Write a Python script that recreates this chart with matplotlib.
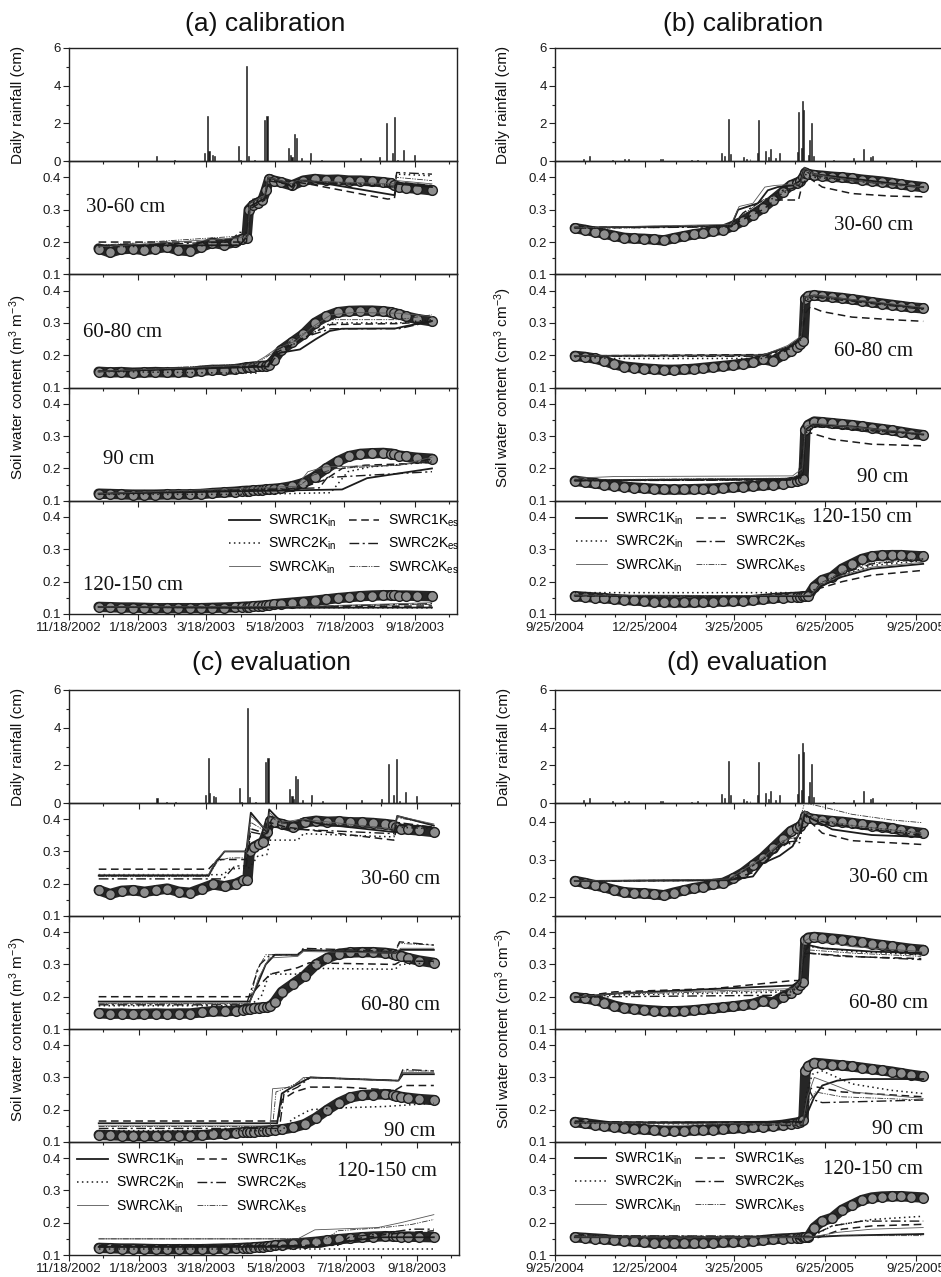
import numpy as np
import matplotlib
matplotlib.use("Agg")
import matplotlib.pyplot as plt
import matplotlib.dates as mdates
from matplotlib.ticker import MultipleLocator, FuncFormatter
from matplotlib.lines import Line2D

plt.rcParams['font.family'] = ['Liberation Sans', 'DejaVu Sans']
plt.rcParams['mathtext.fontset'] = 'custom'
plt.rcParams['mathtext.rm'] = 'Liberation Sans'
plt.rcParams['mathtext.it'] = 'Liberation Sans:italic'
plt.rcParams['mathtext.bf'] = 'Liberation Sans:bold'

# ------------------------------------------------------------------ data
site1_start, site1_end = '2002-11-18', '2003-10-25'
site2_start, site2_end = '2004-09-25', '2005-10-24'

titles = ['(a) calibration', '(b) calibration', '(c) evaluation', '(d) evaluation']
depths = ['30-60 cm', '60-80 cm', '90 cm', '120-150 cm']
sim_labels = ['SWRC1K$_{\\rm in}$', 'SWRC1K$_{\\rm es}$', 'SWRC2K$_{\\rm in}$',
              'SWRC2K$_{\\rm es}$', 'SWRCλK$_{\\rm in}$', 'SWRCλK$_{\\rm es}$']

# daily rainfall (days since site start, cm)
rain1_day = [77, 85, 93, 119, 122, 123, 126, 128, 149, 151, 156, 158, 163, 172, 174, 193,
             195, 196, 198, 200, 204, 212, 222, 256, 273, 279, 284, 286, 289, 294, 304]
rain1_cm = [0.28, 0.03, 0.05, 0.42, 2.4, 0.55, 0.35, 0.3, 0.78, 0.05, 5.05, 0.3, 0.05, 2.2,
            2.4, 0.72, 0.35, 0.2, 1.42, 1.25, 0.15, 0.45, 0.08, 0.15, 0.22, 2.05, 0.45, 2.35,
            0.08, 0.6, 0.35]
rain2_day = [29, 35, 58, 70, 74, 107, 109, 138, 144, 168, 171, 175, 177, 190, 193, 197, 205,
             206, 213, 216, 218, 223, 227, 245, 246, 249, 250, 251, 256, 257, 259, 261, 281,
             302, 312, 319, 321, 360]
rain2_cm = [0.14, 0.25, 0.08, 0.1, 0.1, 0.1, 0.12, 0.07, 0.08, 0.46, 0.25, 2.25, 0.4, 0.22,
            0.12, 0.12, 0.42, 2.2, 0.55, 0.2, 0.65, 0.15, 0.42, 0.5, 2.6, 0.7, 3.2, 2.7, 0.35,
            1.13, 2.05, 0.3, 0.05, 0.15, 0.65, 0.22, 0.25, 0.05]

# observed soil water content, site 1 (panels a, c)
obs1_day = [26, 36, 46, 56, 66, 76, 86, 96, 106, 116, 126, 136, 146, 152, 156, 158, 162, 166,
            170, 173, 176, 180, 186, 196, 206, 216, 226, 236, 246, 256, 266, 276, 283, 286,
            290, 296, 306, 319]
obs1_3060 = [0.180, 0.168, 0.178, 0.180, 0.175, 0.180, 0.185, 0.175, 0.172, 0.185,
             0.198, 0.192, 0.200, 0.210, 0.212, 0.300, 0.315, 0.322, 0.330, 0.360,
             0.395, 0.390, 0.385, 0.375, 0.390, 0.395, 0.392, 0.393, 0.390, 0.390,
             0.388, 0.385, 0.382, 0.375, 0.370, 0.368, 0.365, 0.360]
obs1_6080 = [0.149, 0.147, 0.148, 0.146, 0.147, 0.148, 0.147, 0.148, 0.148, 0.152,
             0.155, 0.155, 0.157, 0.160, 0.163, 0.163, 0.165, 0.166, 0.167, 0.168,
             0.170, 0.185, 0.215, 0.240, 0.265, 0.300, 0.320, 0.333, 0.337, 0.338,
             0.338, 0.336, 0.333, 0.330, 0.327, 0.320, 0.312, 0.305]
obs1_90 = [0.122, 0.121, 0.120, 0.119, 0.119, 0.119, 0.120, 0.120, 0.120, 0.121,
           0.124, 0.126, 0.128, 0.130, 0.131, 0.131, 0.132, 0.133, 0.134, 0.135,
           0.136, 0.137, 0.139, 0.145, 0.155, 0.175, 0.200, 0.222, 0.238, 0.245,
           0.247, 0.248, 0.246, 0.244, 0.240, 0.237, 0.233, 0.230]
obs1_120 = [0.122, 0.121, 0.120, 0.120, 0.119, 0.118, 0.118, 0.118, 0.118, 0.118,
            0.119, 0.120, 0.121, 0.122, 0.123, 0.123, 0.124, 0.125, 0.126, 0.127,
            0.128, 0.130, 0.132, 0.135, 0.138, 0.141, 0.145, 0.149, 0.152, 0.155,
            0.157, 0.158, 0.158, 0.158, 0.157, 0.157, 0.156, 0.155]

# observed soil water content, site 2 (panels b, d)
obs2_day = [20, 30, 40, 50, 60, 70, 80, 90, 100, 110, 120, 130, 140, 150, 160, 170, 180, 190,
            200, 210, 220, 230, 238, 244, 248, 251, 253, 256, 262, 270, 280, 290, 300, 310,
            320, 330, 340, 350, 360, 372]
obs2_3060 = [0.243, 0.238, 0.232, 0.226, 0.219, 0.213, 0.211, 0.210, 0.208, 0.205,
             0.212, 0.218, 0.224, 0.228, 0.235, 0.238, 0.250, 0.265, 0.285, 0.305,
             0.330, 0.355, 0.375, 0.383, 0.388, 0.400, 0.415, 0.410, 0.407, 0.405,
             0.402, 0.400, 0.397, 0.393, 0.390, 0.387, 0.383, 0.378, 0.374, 0.370]
obs2_6080 = [0.198, 0.195, 0.190, 0.182, 0.172, 0.165, 0.162, 0.159, 0.157, 0.155,
             0.155, 0.156, 0.158, 0.161, 0.164, 0.167, 0.170, 0.174, 0.178, 0.188,
             0.182, 0.200, 0.212, 0.225, 0.235, 0.245, 0.375, 0.383, 0.385, 0.383,
             0.380, 0.377, 0.373, 0.369, 0.364, 0.360, 0.356, 0.352, 0.348, 0.345]
obs2_90 = [0.162, 0.158, 0.154, 0.150, 0.147, 0.144, 0.141, 0.139, 0.137, 0.135,
           0.135, 0.135, 0.136, 0.137, 0.138, 0.140, 0.142, 0.144, 0.146, 0.148,
           0.150, 0.153, 0.157, 0.160, 0.163, 0.167, 0.320, 0.335, 0.345, 0.343,
           0.340, 0.337, 0.334, 0.330, 0.326, 0.322, 0.318, 0.313, 0.308, 0.303]
obs2_120 = [0.155, 0.153, 0.151, 0.149, 0.146, 0.144, 0.142, 0.140, 0.138, 0.137,
            0.136, 0.136, 0.136, 0.137, 0.138, 0.139, 0.140, 0.141, 0.143, 0.146,
            0.149, 0.151, 0.152, 0.153, 0.154, 0.155, 0.155, 0.156, 0.185, 0.205,
            0.215, 0.240, 0.255, 0.270, 0.278, 0.281, 0.282, 0.282, 0.280, 0.278]

# simulated series: (day, value) knots, order = sim_labels
sim_a_3060 = [
    [(26, .19), (150, .19), (157, .22), (159, .31), (172, .335), (175, .40), (190, .385), (196, .37), (200, .39), (210, .39), (286, .345), (288, .38), (319, .37)],
    [(26, .20), (156, .20), (158, .30), (172, .33), (175, .39), (190, .38), (196, .36), (200, .385), (210, .38), (280, .333), (286, .335), (288, .385), (319, .375)],
    [(26, .185), (150, .19), (157, .22), (159, .31), (172, .34), (175, .395), (196, .375), (200, .39), (286, .375), (288, .41), (319, .405)],
    [(26, .188), (140, .20), (150, .23), (157, .23), (159, .33), (172, .34), (175, .395), (196, .375), (200, .39), (286, .37), (288, .415), (319, .41)],
    [(26, .185), (157, .215), (159, .32), (172, .345), (175, .40), (196, .38), (200, .39), (286, .38), (288, .39), (319, .38)],
    [(26, .19), (157, .22), (159, .32), (172, .34), (175, .398), (196, .378), (200, .39), (286, .375), (288, .40), (319, .39)]]
sim_a_6080 = [
    [(26, .15), (175, .165), (180, .2), (186, .208), (203, .218), (217, .25), (229, .275), (240, .282), (287, .283), (296, .29), (319, .306)],
    [(26, .15), (170, .165), (178, .175), (183, .21), (200, .24), (215, .27), (230, .295), (290, .298), (319, .305)],
    [(26, .15), (140, .145), (165, .145), (175, .165), (183, .2), (200, .24), (215, .27), (230, .3), (290, .3), (319, .31)],
    [(26, .15), (175, .17), (182, .215), (195, .24), (215, .265), (230, .282), (290, .282), (319, .305)],
    [(26, .15), (160, .17), (172, .195), (182, .22), (200, .245), (215, .29), (230, .325), (250, .332), (290, .33), (319, .32)],
    [(26, .15), (165, .175), (180, .21), (195, .245), (215, .285), (230, .31), (290, .31), (319, .325)]]
sim_a_90 = [
    [(26, .122), (240, .135), (262, .17), (319, .2)],
    [(26, .122), (200, .135), (225, .165), (240, .2), (260, .21), (300, .215), (319, .23)],
    [(26, .12), (160, .12), (230, .125), (245, .19), (265, .205), (319, .22)],
    [(26, .122), (220, .14), (227, .172), (319, .19)],
    [(26, .122), (200, .145), (210, .19), (225, .205), (290, .21), (319, .235)],
    [(26, .122), (200, .14), (215, .18), (235, .2), (290, .21), (319, .225)]]
sim_a_120 = [
    [(26, .122), (150, .119), (319, .12)],
    [(26, .122), (150, .12), (319, .125)],
    [(26, .121), (319, .119)],
    [(26, .122), (200, .122), (319, .132)],
    [(26, .122), (200, .123), (319, .135)],
    [(26, .122), (200, .122), (319, .13)]]

sim_b_3060 = [
    [(20, .245), (178, .25), (185, .3), (195, .31), (205, .32), (215, .36), (225, .37), (240, .375), (248, .39), (252, .43), (262, .41), (290, .4), (372, .37)],
    [(20, .245), (178, .25), (190, .27), (210, .3), (222, .33), (246, .33), (250, .38), (256, .4), (270, .37), (300, .35), (340, .342), (372, .34)],
    [(20, .243), (178, .248), (190, .28), (210, .32), (230, .35), (248, .38), (252, .41), (262, .4), (300, .39), (372, .37)],
    [(20, .243), (178, .247), (190, .29), (205, .32), (230, .36), (246, .37), (252, .42), (262, .405), (300, .39), (372, .368)],
    [(20, .244), (178, .255), (186, .31), (200, .32), (212, .37), (222, .375), (248, .38), (252, .43), (262, .41), (300, .39), (372, .37)],
    [(20, .244), (178, .25), (190, .285), (210, .33), (230, .355), (248, .38), (252, .42), (262, .405), (300, .392), (372, .368)]]
sim_b_6080 = [
    [(20, .198), (210, .2), (235, .225), (249, .255), (252, .38), (262, .385), (372, .345)],
    [(20, .198), (210, .202), (235, .22), (249, .25), (253, .33), (258, .35), (270, .335), (300, .318), (340, .31), (372, .305)],
    [(20, .195), (60, .19), (210, .19), (235, .215), (249, .25), (252, .37), (262, .38), (372, .345)],
    [(20, .197), (210, .197), (235, .22), (249, .255), (252, .375), (262, .38), (372, .342)],
    [(20, .198), (210, .2), (235, .23), (249, .26), (252, .38), (262, .385), (372, .348)],
    [(20, .198), (210, .2), (235, .225), (249, .255), (252, .375), (262, .382), (372, .343)]]
sim_b_90 = [
    [(20, .163), (240, .168), (250, .18), (253, .32), (260, .335), (300, .33), (372, .305)],
    [(20, .163), (240, .165), (250, .175), (253, .3), (258, .31), (280, .29), (320, .275), (372, .27)],
    [(20, .163), (240, .165), (250, .17), (253, .31), (262, .33), (372, .305)],
    [(20, .162), (245, .165), (253, .31), (262, .33), (372, .305)],
    [(20, .17), (60, .175), (240, .177), (250, .2), (253, .33), (262, .34), (372, .308)],
    [(20, .165), (240, .17), (250, .19), (253, .32), (262, .335), (372, .305)]]
sim_b_120 = [
    [(20, .157), (258, .155), (268, .185), (290, .215), (320, .24), (372, .255)],
    [(20, .156), (258, .155), (268, .18), (290, .2), (320, .22), (372, .235)],
    [(20, .166), (258, .166), (268, .19), (290, .22), (320, .25), (372, .265)],
    [(20, .157), (258, .155), (268, .19), (290, .225), (320, .255), (372, .27)],
    [(20, .158), (258, .157), (268, .19), (290, .22), (320, .245), (372, .26)],
    [(20, .157), (258, .156), (268, .195), (290, .23), (320, .258), (372, .272)]]

sim_c_3060 = [
    [(26, .225), (122, .225), (128, .265), (136, .3), (155, .3), (159, .42), (173, .36), (175, .43), (186, .39), (200, .39), (203, .4), (220, .385), (284, .36), (287, .41), (319, .38)],
    [(26, .245), (122, .245), (130, .275), (155, .275), (159, .37), (173, .355), (175, .39), (190, .375), (284, .335), (287, .38), (319, .375)],
    [(26, .228), (135, .228), (140, .245), (158, .25), (165, .285), (173, .29), (176, .335), (200, .335), (205, .355), (284, .345), (287, .375), (319, .37)],
    [(26, .215), (135, .215), (145, .255), (155, .255), (159, .36), (173, .35), (176, .38), (190, .37), (284, .355), (287, .39), (319, .375)],
    [(26, .228), (122, .228), (128, .27), (136, .3), (155, .3), (159, .41), (173, .365), (175, .42), (186, .39), (203, .4), (284, .37), (287, .41), (319, .385)],
    [(26, .222), (122, .222), (130, .27), (140, .28), (155, .28), (159, .39), (173, .36), (175, .41), (186, .385), (203, .395), (284, .365), (287, .405), (319, .383)]]
sim_c_6080 = [
    [(26, .185), (158, .185), (165, .24), (172, .3), (180, .33), (200, .33), (205, .345), (285, .335), (290, .345), (319, .345)],
    [(26, .2), (158, .2), (165, .23), (176, .27), (200, .29), (210, .305), (285, .3), (290, .31), (319, .31)],
    [(26, .172), (158, .172), (168, .2), (175, .27), (200, .27), (210, .288), (285, .285), (290, .3), (319, .305)],
    [(26, .175), (155, .175), (162, .25), (167, .3), (176, .33), (200, .33), (205, .35), (285, .34), (289, .37), (319, .36)],
    [(26, .18), (158, .18), (166, .26), (175, .32), (200, .325), (205, .34), (285, .335), (290, .35), (319, .35)],
    [(26, .178), (158, .178), (164, .28), (172, .33), (200, .33), (205, .345), (285, .34), (289, .365), (319, .36)]]
sim_c_90 = [
    [(26, .158), (182, .158), (186, .25), (195, .27), (211, .3), (288, .29), (292, .31), (319, .31)],
    [(26, .165), (183, .165), (186, .23), (197, .255), (211, .27), (240, .27), (285, .26), (292, .275), (319, .275)],
    [(26, .135), (186, .135), (195, .17), (211, .2), (232, .205), (276, .21), (319, .22)],
    [(26, .142), (184, .142), (188, .25), (200, .27), (211, .3), (288, .29), (292, .325), (319, .32)],
    [(26, .15), (176, .15), (178, .265), (195, .27), (205, .3), (288, .29), (292, .315), (319, .315)],
    [(26, .148), (178, .148), (181, .255), (195, .275), (208, .3), (288, .29), (292, .32), (319, .32)]]
sim_c_120 = [
    [(26, .125), (220, .125), (240, .14), (270, .155), (319, .155)],
    [(26, .13), (230, .13), (250, .15), (280, .165), (319, .175)],
    [(26, .12), (319, .12)],
    [(26, .125), (235, .13), (245, .155), (280, .17), (300, .18), (319, .18)],
    [(26, .15), (200, .15), (215, .178), (270, .185), (290, .2), (319, .225)],
    [(26, .15), (225, .15), (235, .175), (275, .185), (300, .195), (319, .21)]]

sim_d_3060 = [
    [(20, .243), (175, .245), (200, .255), (210, .29), (227, .31), (240, .335), (247, .37), (252, .42), (258, .41), (280, .38), (320, .365), (370, .36)],
    [(20, .243), (175, .245), (200, .265), (227, .33), (245, .36), (252, .42), (258, .4), (270, .37), (300, .35), (370, .34)],
    [(20, .243), (175, .245), (210, .3), (230, .34), (247, .345), (252, .42), (262, .405), (300, .39), (370, .37)],
    [(20, .243), (175, .245), (210, .3), (230, .345), (247, .35), (252, .42), (262, .405), (300, .385), (370, .365)],
    [(20, .243), (175, .248), (210, .305), (230, .35), (245, .36), (252, .43), (262, .41), (300, .39), (370, .37)],
    [(20, .243), (175, .246), (210, .3), (230, .345), (245, .38), (252, .45), (270, .44), (300, .42), (340, .405), (370, .398)]]
sim_d_6080 = [
    [(20, .198), (60, .21), (240, .235), (248, .25), (251, .33), (256, .36), (270, .35), (320, .34), (370, .335)],
    [(20, .198), (60, .215), (160, .225), (240, .25), (248, .25), (251, .32), (256, .335), (290, .325), (370, .318)],
    [(20, .198), (60, .205), (240, .215), (248, .24), (251, .35), (258, .355), (300, .34), (370, .33)],
    [(20, .198), (60, .2), (240, .205), (248, .24), (251, .33), (256, .335), (300, .325), (370, .315)],
    [(20, .198), (60, .21), (240, .225), (248, .25), (251, .37), (256, .38), (300, .355), (370, .34)],
    [(20, .198), (60, .208), (240, .22), (248, .245), (251, .34), (256, .345), (300, .335), (370, .325)]]
sim_d_90 = [
    [(20, .16), (250, .163), (255, .19), (262, .24), (270, .275), (285, .29), (300, .295), (372, .295)],
    [(20, .162), (250, .16), (254, .2), (258, .265), (265, .27), (290, .255), (372, .24)],
    [(20, .158), (250, .155), (254, .25), (260, .31), (270, .32), (300, .28), (340, .26), (372, .25)],
    [(20, .165), (250, .15), (254, .2), (257, .26), (262, .23), (270, .222), (372, .23)],
    [(20, .16), (250, .155), (255, .24), (262, .3), (275, .285), (300, .255), (372, .235)],
    [(20, .16), (250, .152), (256, .22), (263, .255), (290, .24), (372, .23)]]
sim_d_120 = [
    [(20, .155), (258, .155), (290, .16), (372, .165)],
    [(20, .158), (240, .155), (255, .14), (262, .15), (290, .18), (320, .19), (372, .195)],
    [(20, .158), (258, .155), (280, .19), (320, .21), (372, .22)],
    [(20, .16), (258, .158), (280, .19), (310, .205), (372, .205)],
    [(20, .156), (258, .155), (285, .17), (320, .18), (372, .185)],
    [(20, .16), (258, .158), (290, .16), (372, .16)]]

# ------------------------------------------------------------------ styles
W, H = 941, 1277
INK = '#1c1c1c'
sim_styles = [
    dict(ls='-', lw=1.3, color=INK),
    dict(ls=(0, (5, 3)), lw=1.1, color=INK),
    dict(ls=(0, (1, 2.2)), lw=1.1, color=INK),
    dict(ls=(0, (7, 2.5, 1.5, 2.5)), lw=1.0, color=INK),
    dict(ls='-', lw=0.6, color='#555555'),
    dict(ls=(0, (7, 1.5, 1.5, 1.5, 1.5, 1.5)), lw=0.6, color='#333333'),
]

fig = plt.figure(figsize=(W / 100, H / 100), dpi=100)
fig.patch.set_facecolor('white')


def fx(px):
    return px / W


def fy(py):
    return 1 - py / H


def dnum(start, days):
    return mdates.date2num(np.datetime64(start)) + np.asarray(days, dtype=float)


def fmt_date(x, pos):
    d = mdates.num2date(x)
    return f"{d.month}/{d.day}/{d.year}"


panels = [
    dict(l=69, r=457, t=48, b=614, site=1,
         sims=[sim_a_3060, sim_a_6080, sim_a_90, sim_a_120],
         title=(265, 24), lab_x=18,
         dlab=[(86, 208, 'left'), (83, 333, 'left'), (103, 460, 'left'), (83, 585, 'left')],
         leg=(229, 513), ylow=[0.1, 0.1, 0.1, 0.1]),
    dict(l=555, r=945, t=48, b=614, site=2,
         sims=[sim_b_3060, sim_b_6080, sim_b_90, sim_b_120],
         title=(743, 24), lab_x=503,
         dlab=[(913, 225, 'right'), (913, 351, 'right'), (908, 478, 'right'), (912, 518, 'right')],
         leg=(576, 511), ylow=[0.1, 0.1, 0.1, 0.1]),
    dict(l=69, r=459, t=690, b=1255, site=1,
         sims=[sim_c_3060, sim_c_6080, sim_c_90, sim_c_120],
         title=(271, 663), lab_x=18,
         dlab=[(440, 880, 'right'), (440, 1005, 'right'), (435, 1132, 'right'), (437, 1172, 'right')],
         leg=(77, 1152), ylow=[0.1, 0.1, 0.1, 0.1]),
    dict(l=555, r=945, t=690, b=1255, site=2,
         sims=[sim_d_3060, sim_d_6080, sim_d_90, sim_d_120],
         title=(747, 663), lab_x=504,
         dlab=[(928, 878, 'right'), (928, 1003, 'right'), (923, 1130, 'right'), (923, 1170, 'right')],
         leg=(575, 1151), ylow=[0.15, 0.1, 0.1, 0.1]),
]


def style_axis(ax):
    ax.set_facecolor('none')
    for sp in ax.spines.values():
        sp.set_linewidth(1.0)
        sp.set_color('#222222')
    ax.tick_params(which='both', direction='out', top=False, right=False,
                   colors='#222222', labelcolor='#1a1a1a', labelsize=9.5, pad=2, width=0.8)
    ax.tick_params(which='major', length=4)
    ax.tick_params(which='minor', length=2.3)


for k, p in enumerate(panels):
    if p['site'] == 1:
        start, end = site1_start, site1_end
        rday, rcm = rain1_day, rain1_cm
        oday = obs1_day
        obs = [obs1_3060, obs1_6080, obs1_90, obs1_120]
        maj_months, tick_day = [1, 3, 5, 7, 9, 11], 18
        unit = 'm$^3$ m$^{-3}$'
    else:
        start, end = site2_start, site2_end
        rday, rcm = rain2_day, rain2_cm
        oday = obs2_day
        obs = [obs2_3060, obs2_6080, obs2_90, obs2_120]
        maj_months, tick_day = [3, 6, 9, 12], 25
        unit = 'cm$^3$ cm$^{-3}$'
    x0 = mdates.date2num(np.datetime64(start))
    x1 = mdates.date2num(np.datetime64(end))

    l, r, t, b = p['l'], p['r'], p['t'], p['b']
    h = (b - t) / 5.0
    axes = []
    for i in range(5):
        top = t + i * h
        ax = fig.add_axes([fx(l), fy(top + h), (r - l) / W, h / H])
        style_axis(ax)
        ax.set_xlim(x0, x1)
        ax.xaxis.set_major_locator(mdates.MonthLocator(bymonth=maj_months, bymonthday=tick_day))
        ax.xaxis.set_minor_locator(mdates.MonthLocator(bymonthday=tick_day))
        ax.xaxis.set_major_formatter(FuncFormatter(fmt_date))
        if i < 4:
            ax.tick_params(labelbottom=False)
        axes.append(ax)

    # rainfall
    axr = axes[0]
    axr.bar(dnum(start, rday), rcm, width=1.0, color=INK, edgecolor=INK, linewidth=0.4)
    axr.set_ylim(0, 6)
    axr.yaxis.set_major_locator(MultipleLocator(2))
    axr.yaxis.set_minor_locator(MultipleLocator(1))
    axr.yaxis.set_major_formatter(FuncFormatter(lambda v, pos: f"{v:.0f}"))

    # soil water panels
    for j in range(4):
        ax = axes[j + 1]
        ax.set_ylim(p['ylow'][j], 0.45)
        ax.yaxis.set_major_locator(MultipleLocator(0.1))
        ax.yaxis.set_minor_locator(MultipleLocator(0.05))
        ax.yaxis.set_major_formatter(FuncFormatter(lambda v, pos: f"{v:.1f}"))
        xo = dnum(start, oday)
        ax.plot(xo, obs[j], '-', color='#262626', lw=7.5, solid_capstyle='round', zorder=2)
        ax.plot(xo, obs[j], 'o', ms=7, mfc='#8e8e8e', mec='#1e1e1e', mew=1.0, zorder=3)
        for s, knots in enumerate(p['sims'][j]):
            dd, vv = zip(*knots)
            ax.plot(dnum(start, dd), vv, zorder=4, **sim_styles[s])
        dx, dy, ha = p['dlab'][j]
        fig.text(fx(dx), fy(dy), depths[j], ha=ha, va='center', fontsize=15,
                 family='Liberation Serif', color='#111111')

    # legend in deepest panel
    order = [0, 2, 4, 1, 3, 5]
    handles = [Line2D([], [], **sim_styles[s]) for s in order]
    labels = [sim_labels[s] for s in order]
    lx, ly = p['leg']
    axes[4].legend(handles, labels, loc='upper left', bbox_to_anchor=(fx(lx), fy(ly)),
                   bbox_transform=fig.transFigure, ncol=2, frameon=False, fontsize=10,
                   handlelength=2.2, handletextpad=0.6, columnspacing=0.9,
                   labelspacing=0.45, borderaxespad=0, borderpad=0)

    # titles and axis labels
    tx, ty = p['title']
    fig.text(fx(tx), fy(ty), titles[k], ha='center', va='center', fontsize=19, color='#111111')
    fig.text(fx(p['lab_x']), fy(t + h / 2), 'Daily rainfall (cm)', rotation=90,
             ha='center', va='center', fontsize=11, color='#111111')
    fig.text(fx(p['lab_x']), fy(t + h * 3), 'Soil water content (' + unit + ')', rotation=90,
             ha='center', va='center', fontsize=11, color='#111111')

fig.savefig('out.png', dpi=100, facecolor='white')
